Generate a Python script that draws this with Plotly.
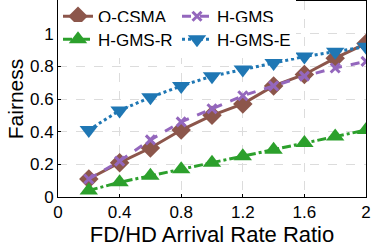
import plotly.graph_objects as go

x = [0.2, 0.4, 0.6, 0.8, 1.0, 1.2, 1.4, 1.6, 1.8, 2.0]
q_csma = [0.11, 0.21, 0.30, 0.41, 0.50, 0.57, 0.68, 0.75, 0.85, 0.94]
h_gms = [0.11, 0.22, 0.35, 0.46, 0.54, 0.62, 0.68, 0.74, 0.79, 0.83]
h_gms_r = [0.04, 0.09, 0.13, 0.17, 0.21, 0.25, 0.29, 0.33, 0.37, 0.41]
h_gms_e = [0.41, 0.53, 0.61, 0.68, 0.74, 0.78, 0.82, 0.86, 0.89, 0.92]

x_ticks = [0, 0.4, 0.8, 1.2, 1.6, 2]
x_tick_labels = ["0", "0.4", "0.8", "1.2", "1.6", "2"]
y_ticks = [0, 0.2, 0.4, 0.6, 0.8, 1]
y_tick_labels = ["0", "0.2", "0.4", "0.6", "0.8", "1"]

FONT = "Liberation Sans, Arial, Helvetica, sans-serif"

fig = go.Figure()
fig.add_trace(go.Scatter(x=x, y=q_csma, name="Q-CSMA", mode="lines+markers",
                         legend="legend",
                         line=dict(color="#8c564b", width=3, dash="solid"),
                         marker=dict(symbol="diamond", size=15, color="#8c564b")))
fig.add_trace(go.Scatter(x=x, y=h_gms, name="H-GMS", mode="lines+markers",
                         legend="legend",
                         line=dict(color="#9467bd", width=3, dash="dash"),
                         marker=dict(symbol="x-thin", size=9, color="#9467bd",
                                     line=dict(color="#9467bd", width=3))))
fig.add_trace(go.Scatter(x=x, y=h_gms_r, name="H-GMS-R", mode="lines+markers",
                         legend="legend2",
                         line=dict(color="#2ca02c", width=3, dash="dashdot"),
                         marker=dict(symbol="triangle-up", size=16, color="#2ca02c")))
fig.add_trace(go.Scatter(x=x, y=h_gms_e, name="H-GMS-E", mode="lines+markers",
                         legend="legend2",
                         line=dict(color="#1f77b4", width=3, dash="dot"),
                         marker=dict(symbol="triangle-down", size=16, color="#1f77b4")))

legend_style = dict(orientation="h", x=0.0, xanchor="left", yanchor="middle",
                    entrywidth=74, entrywidthmode="pixels",
                    bgcolor="white", borderwidth=0, font=dict(size=17),
                    tracegroupgap=0, itemwidth=30)

fig.update_layout(
    width=374, height=247,
    margin=dict(l=58, r=8, t=1, b=50, autoexpand=False),
    paper_bgcolor="white", plot_bgcolor="white",
    font=dict(family=FONT, size=17, color="black"),
    legend=dict(y=0.92, **legend_style),
    legend2=dict(y=0.802, **legend_style),
    showlegend=True,
)
fig.update_xaxes(range=[0, 2], tickvals=x_ticks, ticktext=x_tick_labels,
                 showline=True, linecolor="black", linewidth=1, mirror=True,
                 ticks="inside", ticklen=3, tickcolor="black",
                 showgrid=True, gridcolor="#dcdcdc", griddash="dash", gridwidth=1,
                 zeroline=False, automargin=False,
                 title=dict(text="FD/HD Arrival Rate Ratio", font=dict(size=22), standoff=4),
                 tickfont=dict(size=17))
fig.update_yaxes(range=[0, 1.2], tickvals=y_ticks, ticktext=y_tick_labels,
                 showline=True, linecolor="black", linewidth=1, mirror=True,
                 ticks="inside", ticklen=3, tickcolor="black",
                 showgrid=True, gridcolor="#dcdcdc", griddash="dash", gridwidth=1,
                 zeroline=False, automargin=False,
                 title=dict(text="Fairness", font=dict(size=21), standoff=0),
                 tickfont=dict(size=17))

fig.write_html("out.html", config={"displayModeBar": False},
               post_script="document.body.style.margin='0';document.body.style.overflow='hidden';")
